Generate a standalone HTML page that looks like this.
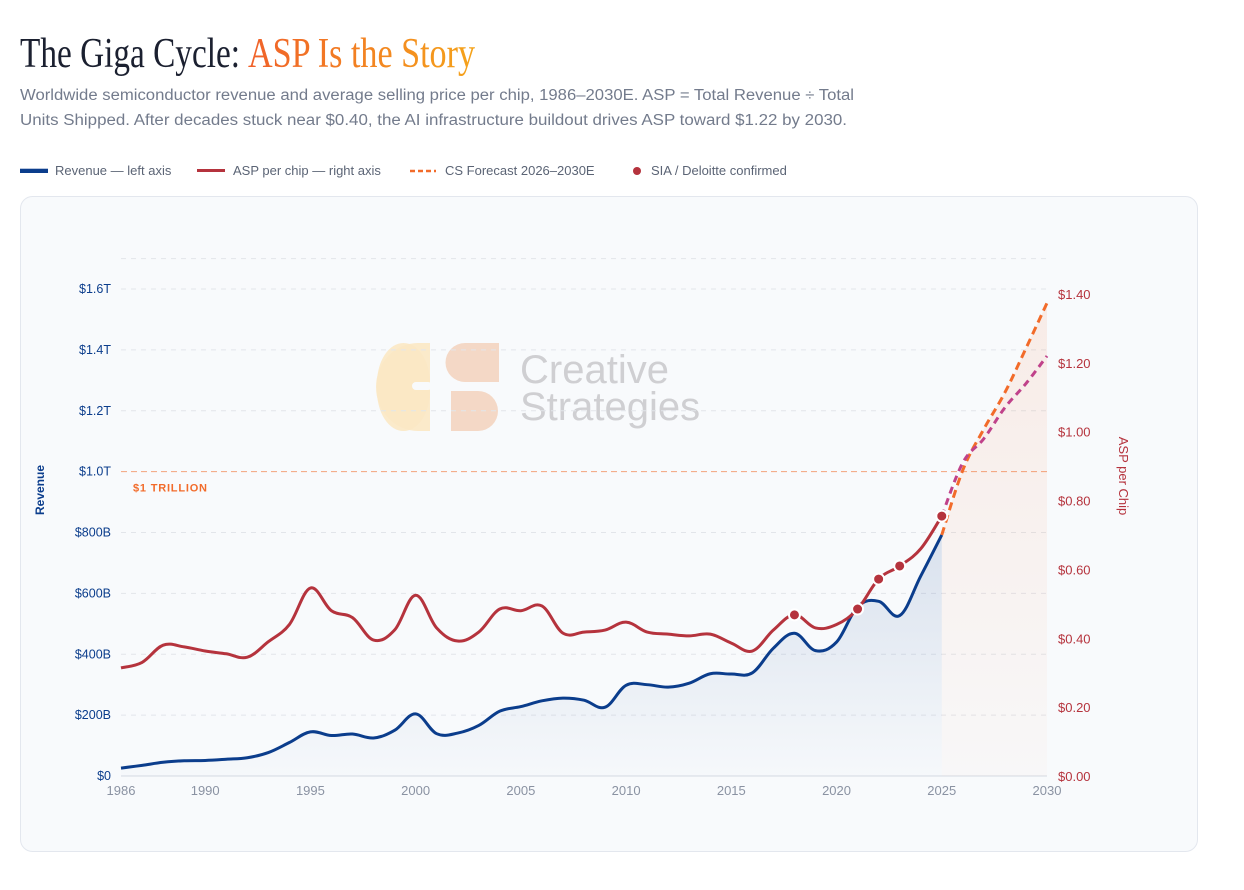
<!DOCTYPE html>
<html><head><meta charset="utf-8">
<style>
html,body{margin:0;padding:0;background:#fff;width:1244px;height:890px;overflow:hidden}
svg{display:block;font-family:"Liberation Sans",sans-serif}
</style></head>
<body>
<svg id="root" width="1244" height="890" viewBox="0 0 1244 890">
<defs>
<linearGradient id="revFill" x1="0" y1="0" x2="0" y2="1"><stop offset="0" stop-color="#0b3d8c" stop-opacity="0.13"/><stop offset="1" stop-color="#0b3d8c" stop-opacity="0.01"/></linearGradient>
<linearGradient id="fcFill" x1="0" y1="0" x2="0" y2="1"><stop offset="0" stop-color="#f26b2a" stop-opacity="0.10"/><stop offset="1" stop-color="#f26b2a" stop-opacity="0.02"/></linearGradient>
<linearGradient id="titleGrad" x1="0" y1="0" x2="1" y2="0"><stop offset="0" stop-color="#f0612a"/><stop offset="1" stop-color="#f5a31a"/></linearGradient>
</defs>
<text x="20" y="67" font-family="Liberation Serif,serif" font-size="42" fill="#1b2030" textLength="220" lengthAdjust="spacingAndGlyphs">The Giga Cycle:</text>
<text x="248" y="67" font-family="Liberation Serif,serif" font-size="42" fill="url(#titleGrad)" textLength="227" lengthAdjust="spacingAndGlyphs">ASP Is the Story</text>
<text x="20" y="100" font-size="15.5" fill="#737b8c" textLength="834" lengthAdjust="spacingAndGlyphs">Worldwide semiconductor revenue and average selling price per chip, 1986–2030E. ASP = Total Revenue ÷ Total</text>
<text x="20" y="125" font-size="15.5" fill="#737b8c" textLength="827" lengthAdjust="spacingAndGlyphs">Units Shipped. After decades stuck near $0.40, the AI infrastructure buildout drives ASP toward $1.22 by 2030.</text>

<g font-size="13" fill="#5b6475">
 <g><rect x="20" y="169" width="28" height="4" fill="#0b3d8c"/><rect x="20" y="168" width="28" height="1" fill="#b8c6de"/><text x="55" y="175">Revenue — left axis</text></g>
 <g><rect x="197" y="169" width="28" height="3" fill="#b5333d"/><text x="233" y="175">ASP per chip — right axis</text></g>
 <g><line x1="410" y1="171" x2="436" y2="171" stroke="#f26b2a" stroke-width="2.5" stroke-dasharray="5,3"/><text x="445" y="175">CS Forecast 2026–2030E</text></g>
 <g><circle cx="637" cy="171" r="4" fill="#b5333d"/><text x="651" y="175">SIA / Deloitte confirmed</text></g>
</g>

<rect x="20.5" y="196.5" width="1177" height="655" rx="12" fill="#f8fafc" stroke="#e3e7ee"/>

<g>
 <path d="M430 343 L430 431 L418 431 A42 44 0 0 1 418 343 Z" fill="#fbe8c4" opacity="0.9"/>
 <rect x="377" y="343" width="53" height="88" rx="40" fill="#fbe8c4" opacity="0.9"/>
 <rect x="412" y="382" width="20" height="8" rx="4" fill="#f8fafc"/>
 <path d="M465 343 L499 343 L499 382 L465 382 A19 19 0 0 1 465 343 Z" fill="#f4d8c6"/>
 <path d="M451 391 L478 391 A20 20 0 0 1 478 431 L451 431 Z" fill="#f4d8c6"/>
 <text x="520" y="383" font-size="40" fill="#cfcfd2">Creative</text>
 <text x="520" y="420" font-size="40" fill="#cfcfd2">Strategies</text>
</g>

<g id="grid"></g>
<g id="plot"></g>
<g id="axes"></g>
<text transform="translate(44,490) rotate(-90)" text-anchor="middle" font-size="12" font-weight="bold" fill="#0b3d8c">Revenue</text>
<text transform="translate(1119,476) rotate(90)" text-anchor="middle" font-size="13" fill="#b5333d">ASP per Chip</text>
</svg>
<script>
const years=[];for(let y=1986;y<=2025;y++)years.push(y);
const revenue=[26,35,45,50,51,55,60,77,110,145,133,138,125,150,204,139,141,166,213,228,247,256,249,226,298,300,292,305,336,335,339,420,469,412,440,556,574,527,657,792];
const asp=[0.314,0.33,0.38,0.375,0.363,0.355,0.345,0.39,0.44,0.546,0.48,0.46,0.395,0.424,0.525,0.43,0.392,0.418,0.485,0.48,0.494,0.415,0.418,0.424,0.447,0.418,0.412,0.407,0.412,0.386,0.363,0.424,0.468,0.43,0.44,0.485,0.572,0.61,0.66,0.755];
const confirmedYears=[2018,2021,2022,2023,2025];
const fcYears=[2025,2026,2027,2028,2029,2030];
const fcRevenue=[792,1005,1140,1260,1405,1554];
const fcAsp=[0.755,0.91,0.98,1.07,1.14,1.22];
const leftTicks=[0,200,400,600,800,1000,1200,1400,1600];
const leftLabels=["$0","$200B","$400B","$600B","$800B","$1.0T","$1.2T","$1.4T","$1.6T"];
const rightTicks=[0,0.2,0.4,0.6,0.8,1.0,1.2,1.4];
const xTicks=[1986,1990,1995,2000,2005,2010,2015,2020,2025,2030];

const X=y=>121+(y-1986)*(926/44);
const YL=v=>776-v*(487/1600);
const YR=v=>776-v*(482/1.4);
const NS="http://www.w3.org/2000/svg";
function mk(tag,attrs,parent){const e=document.createElementNS(NS,tag);for(const k in attrs)e.setAttribute(k,attrs[k]);parent.appendChild(e);return e;}
function smooth(pts){let d=`M${pts[0][0]},${pts[0][1]}`;for(let i=0;i<pts.length-1;i++){const p0=pts[i-1]||pts[i],p1=pts[i],p2=pts[i+1],p3=pts[i+2]||p2;const t=0.18;d+=` C${p1[0]+(p2[0]-p0[0])*t},${p1[1]+(p2[1]-p0[1])*t} ${p2[0]-(p3[0]-p1[0])*t},${p2[1]-(p3[1]-p1[1])*t} ${p2[0]},${p2[1]}`;}return d;}
const grid=document.getElementById('grid'),plot=document.getElementById('plot'),axes=document.getElementById('axes');
// gridlines
[...leftTicks,1700].forEach(v=>{if(v===0||v===1000)return;const l=mk('line',{x1:121,x2:1047,y1:YL(v),y2:YL(v),stroke:'#e2e5ea','stroke-dasharray':'5,5'},grid);

});
const base=mk('line',{x1:121,x2:1047,y1:776,y2:776,stroke:'#d5d9e2'},grid);


const tl=mk('line',{x1:121,x2:1047,y1:YL(1000),y2:YL(1000),stroke:'#f2a37c','stroke-dasharray':'6,4'},grid);


const tt=mk('text',{x:133,y:YL(1000)+20,'font-size':11,'font-weight':'bold',fill:'#f26b2a','letter-spacing':'0.8'},grid);tt.textContent='$1 TRILLION';


// forecast fill
const fcPts=fcYears.map((y,i)=>[X(y),YL(fcRevenue[i])]);
const ff=mk('path',{d:smooth(fcPts)+` L${X(2030)},776 L${X(2025)},776 Z`,fill:'url(#fcFill)'},plot);


// revenue
const rp=years.map((y,i)=>[X(y),YL(revenue[i])]);
const ra=mk('path',{d:smooth(rp)+` L${X(2025)},776 L${X(1986)},776 Z`,fill:'url(#revFill)'},plot);


const rl=mk('path',{d:smooth(rp),fill:'none',stroke:'#0b3d8c','stroke-width':3},plot);


// asp
const ap=years.map((y,i)=>[X(y),YR(asp[i])]);
const al=mk('path',{d:smooth(ap),fill:'none',stroke:'#b5333d','stroke-width':3},plot);


// forecasts
const fl=mk('path',{d:smooth(fcPts),fill:'none',stroke:'#f26b2a','stroke-width':3,'stroke-dasharray':'8,5'},plot);


const fa=mk('path',{d:smooth(fcYears.map((y,i)=>[X(y),YR(fcAsp[i])])),fill:'none',stroke:'#c0428a','stroke-width':3,'stroke-dasharray':'7,5'},plot);


// dots
confirmedYears.forEach(y=>{const i=years.indexOf(y);const c=mk('circle',{cx:X(y),cy:YR(asp[i]),r:5.5,fill:'#b5333d',stroke:'#fff','stroke-width':2},plot);

});
// axes labels
leftTicks.forEach((v,i)=>{const t=mk('text',{x:111,y:YL(v)+4,'text-anchor':'end','font-size':12.5,fill:'#0b3d8c'},axes);t.textContent=leftLabels[i];

});
rightTicks.forEach(v=>{const t=mk('text',{x:1058,y:YR(v)+5,'font-size':13,fill:'#b5333d'},axes);t.textContent='$'+v.toFixed(2);

});
xTicks.forEach(y=>{const t=mk('text',{x:X(y),y:795,'text-anchor':'middle','font-size':13,fill:'#8a92a2'},axes);t.textContent=y;

});
</script>
</body></html>
